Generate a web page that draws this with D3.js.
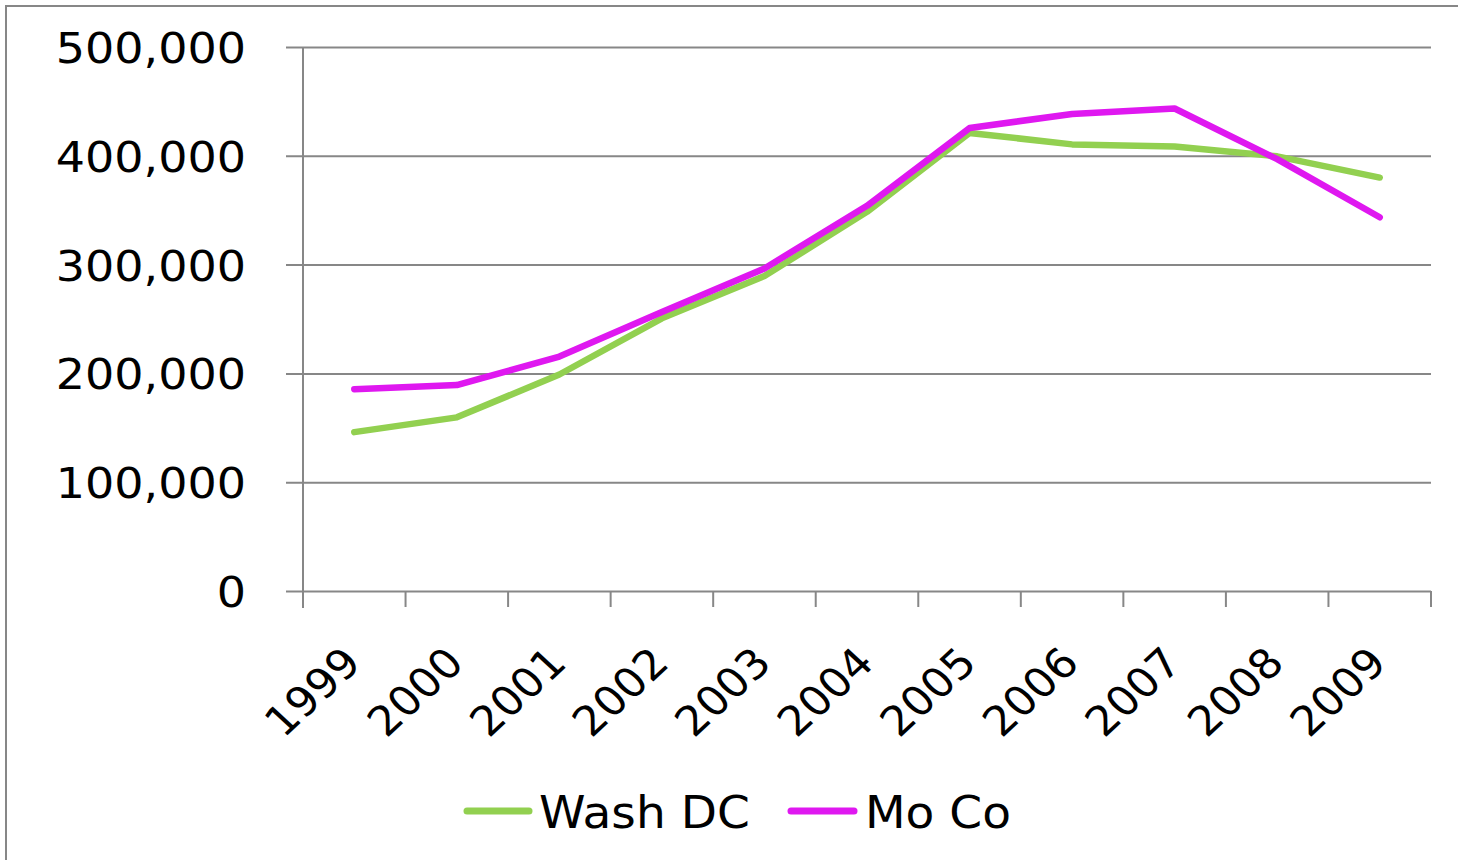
<!DOCTYPE html>
<html>
<head>
<meta charset="utf-8">
<script src="https://cdn.jsdelivr.net/npm/d3@7"></script>
<style>
  html, body { margin: 0; padding: 0; background: #fff; }
  svg { display: block; }
</style>
</head>
<body>
<svg id="chart" width="1458" height="860"></svg>
<script>
const years = ["1999","2000","2001","2002","2003","2004","2005","2006","2007","2008","2009"];
const washDC = [146000, 159600, 199000, 250600, 289500, 348500, 421000, 410500, 408500, 399500, 380000];
const moCo   = [185500, 189300, 215500, 256500, 296500, 354000, 425500, 438500, 443500, 397000, 343500];
const yTicks = [0, 100000, 200000, 300000, 400000, 500000];
const seriesNames = ["Wash DC", "Mo Co"];
const seriesColors = ["#92D050", "#DF18F0"];

(function () {
const svg = d3.select("#chart");
const font = "'DejaVu Sans', Verdana, sans-serif";
const gridColor = "#878787";
const stretch = 1.07;

// outer frame
svg.append("rect")
  .attr("x", 6).attr("y", 6).attr("width", 1500).attr("height", 900)
  .attr("fill", "none").attr("stroke", gridColor).attr("stroke-width", 2);

const pLeft = 303, pRight = 1431, pTop = 47, pBottom = 591;

const x = d3.scaleBand().domain(years).range([pLeft, pRight]).padding(0);
const y = d3.scaleLinear().domain([0, 500000]).range([pBottom, pTop]);

// y gridlines + tick stubs via axis
const yAxis = d3.axisLeft(y).tickValues(yTicks).tickSize(-(pRight - pLeft)).tickFormat(d3.format(","));
const gy = svg.append("g").attr("transform", `translate(${pLeft},0)`).call(yAxis);
gy.select(".domain").remove();
gy.selectAll(".tick line").attr("stroke", gridColor).attr("stroke-width", 2)
  .attr("x1", -17);
gy.selectAll(".tick text")
  .attr("x", 0)
  .attr("transform", `translate(-57,0) scale(${stretch},1)`)
  .attr("dy", "0.36em")
  .attr("fill", "#000")
  .style("font-family", font).style("font-size", "43px");

// vertical axis line
svg.append("line")
  .attr("x1", pLeft).attr("x2", pLeft).attr("y1", pTop).attr("y2", pBottom + 17)
  .attr("stroke", gridColor).attr("stroke-width", 2);

// x axis ticks at band boundaries
const boundaries = years.map(d => x(d)).concat([x(years[years.length - 1]) + x.bandwidth()]);
svg.append("g").selectAll("line").data(boundaries).join("line")
  .attr("x1", d => d).attr("x2", d => d)
  .attr("y1", pBottom).attr("y2", pBottom + 16)
  .attr("stroke", gridColor).attr("stroke-width", 2);

// x labels
svg.append("g").selectAll("text").data(years).join("text")
  .attr("transform", d => `translate(${x(d) + x.bandwidth() / 2 + 9},${pBottom + 74}) scale(1.08,1) rotate(-45)`)
  .attr("text-anchor", "end")
  .attr("fill", "#000")
  .style("font-family", font).style("font-size", "41px")
  .text(d => d);

// lines
const line = d3.line()
  .x((d, i) => x(years[i]) + x.bandwidth() / 2)
  .y(d => y(d));

[washDC, moCo].forEach((vals, k) => {
  svg.append("path")
    .datum(vals)
    .attr("d", line)
    .attr("fill", "none")
    .attr("stroke", seriesColors[k])
    .attr("stroke-width", 6.5)
    .attr("stroke-linejoin", "round")
    .attr("stroke-linecap", "round");
});

// legend
const legendItems = [
  { name: seriesNames[0], color: seriesColors[0], x1: 467, x2: 529, tx: 539 },
  { name: seriesNames[1], color: seriesColors[1], x1: 791, x2: 854, tx: 865 }
];
const lg = svg.append("g");
legendItems.forEach(it => {
  lg.append("line")
    .attr("x1", it.x1).attr("x2", it.x2).attr("y1", 811).attr("y2", 811)
    .attr("stroke", it.color).attr("stroke-width", 7).attr("stroke-linecap", "round");
  lg.append("text")
    .attr("transform", `translate(${it.tx},828) scale(${stretch},1)`)
    .attr("fill", "#000")
    .style("font-family", font).style("font-size", "44px")
    .text(it.name);
});
})();
</script>
</body>
</html>
